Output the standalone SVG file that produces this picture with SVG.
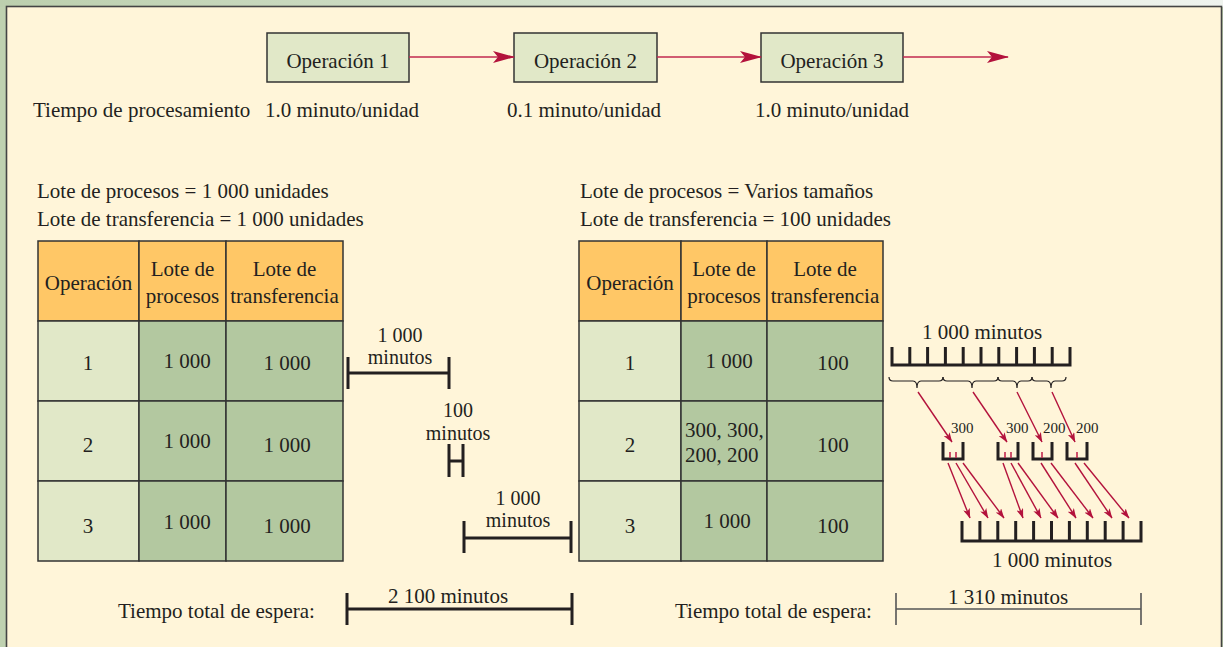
<svg xmlns="http://www.w3.org/2000/svg" width="1223" height="647" viewBox="0 0 1223 647">
<defs>
<linearGradient id="topband" x1="0" y1="0" x2="1" y2="0">
<stop offset="0" stop-color="#bccfae"/>
<stop offset="0.6" stop-color="#dbe6d5"/>
<stop offset="1" stop-color="#eff3ee"/>
</linearGradient>
<marker id="bigArrow" viewBox="0 0 22 12" refX="21" refY="6" markerWidth="22" markerHeight="12" markerUnits="userSpaceOnUse" orient="auto">
<path d="M0,0 L22,6 L0,12 L5,6 z" fill="#b3123c"/>
</marker>
<marker id="smallArrow" viewBox="0 0 10 7" refX="9.5" refY="3.5" markerWidth="10" markerHeight="7" markerUnits="userSpaceOnUse" orient="auto">
<path d="M0,0 L10,3.5 L0,7 L2.5,3.5 z" fill="#b3123c"/>
</marker>
</defs>
<style>
text{font-family:"Liberation Serif","Times New Roman",serif;font-size:21px;fill:#231f20}
.c{text-anchor:middle}
.sm{font-size:15px}
.lb{font-size:20px}
.box{fill:#e1e8c8;stroke:#333;stroke-width:1.5}
.hd{fill:#ffc766;stroke:#333;stroke-width:1.5}
.c1{fill:#e1e8c8;stroke:#333;stroke-width:1.5}
.c2{fill:#b3c8a0;stroke:#333;stroke-width:1.5}
.flow{stroke:#c2284f;stroke-width:1.6;fill:none}
.red{stroke:#b3123c;stroke-width:1.4;fill:none}
.bar{stroke:#231f20;stroke-width:3;fill:none}
.thin{stroke:#555;stroke-width:1.6;fill:none}
.brace{stroke:#231f20;stroke-width:1.2;fill:none}
.tick{stroke:#c2284f;stroke-width:1.6}
</style>

<!-- frame -->
<rect x="0" y="0" width="1223" height="647" fill="#bfd1b0"/>
<rect x="0" y="0" width="1223" height="7" fill="url(#topband)"/>
<rect x="6.5" y="6.5" width="1215" height="645" fill="#fff5d9" stroke="#444" stroke-width="1.6"/>

<!-- top flow nodes -->
<g id="op1"><rect class="box" x="267" y="33" width="142" height="49"/><text class="c" x="338" y="68">Operación 1</text></g>
<g id="op2"><rect class="box" x="514" y="33" width="143" height="49"/><text class="c" x="585.5" y="68">Operación 2</text></g>
<g id="op3"><rect class="box" x="761" y="33" width="142" height="49"/><text class="c" x="832" y="68">Operación 3</text></g>

<g id="connectors">
<line class="flow" x1="409" y1="57" x2="514" y2="57" marker-end="url(#bigArrow)"/>
<line class="flow" x1="657" y1="57" x2="761" y2="57" marker-end="url(#bigArrow)"/>
<line class="flow" x1="903" y1="57" x2="1008" y2="57" marker-end="url(#bigArrow)"/>
<!-- brace to small comb arrows -->
<line class="red" x1="918" y1="392" x2="952" y2="442" marker-end="url(#smallArrow)"/>
<line class="red" x1="973" y1="392" x2="1007" y2="442" marker-end="url(#smallArrow)"/>
<line class="red" x1="1017" y1="392" x2="1042" y2="442" marker-end="url(#smallArrow)"/>
<line class="red" x1="1052" y1="392" x2="1075" y2="442" marker-end="url(#smallArrow)"/>
<!-- small comb to bottom comb arrows -->
<line class="red" x1="948" y1="463" x2="970" y2="518" marker-end="url(#smallArrow)"/>
<line class="red" x1="956" y1="463" x2="988" y2="518" marker-end="url(#smallArrow)"/>
<line class="red" x1="963" y1="463" x2="1004" y2="518" marker-end="url(#smallArrow)"/>
<line class="red" x1="1003" y1="463" x2="1023" y2="518" marker-end="url(#smallArrow)"/>
<line class="red" x1="1011" y1="463" x2="1041" y2="518" marker-end="url(#smallArrow)"/>
<line class="red" x1="1018" y1="463" x2="1058" y2="518" marker-end="url(#smallArrow)"/>
<line class="red" x1="1041" y1="463" x2="1076" y2="518" marker-end="url(#smallArrow)"/>
<line class="red" x1="1051" y1="463" x2="1093" y2="518" marker-end="url(#smallArrow)"/>
<line class="red" x1="1075" y1="463" x2="1112" y2="518" marker-end="url(#smallArrow)"/>
<line class="red" x1="1084" y1="463" x2="1129" y2="518" marker-end="url(#smallArrow)"/>
</g>

<!-- processing times -->
<g id="times">
<text x="33" y="117">Tiempo de procesamiento</text>
<text x="265" y="117">1.0 minuto/unidad</text>
<text x="507" y="117">0.1 minuto/unidad</text>
<text x="755" y="117">1.0 minuto/unidad</text>
</g>

<!-- left section -->
<g id="left-labels">
<text x="37" y="198">Lote de procesos = 1 000 unidades</text>
<text x="37" y="226">Lote de transferencia = 1 000 unidades</text>
</g>
<g id="left-table">
<rect class="hd" x="38" y="241" width="101" height="80"/>
<rect class="hd" x="139" y="241" width="87" height="80"/>
<rect class="hd" x="226" y="241" width="117" height="80"/>
<rect class="c1" x="38" y="321" width="101" height="80"/>
<rect class="c2" x="139" y="321" width="87" height="80"/>
<rect class="c2" x="226" y="321" width="117" height="80"/>
<rect class="c1" x="38" y="401" width="101" height="80"/>
<rect class="c2" x="139" y="401" width="87" height="80"/>
<rect class="c2" x="226" y="401" width="117" height="80"/>
<rect class="c1" x="38" y="481" width="101" height="80"/>
<rect class="c2" x="139" y="481" width="87" height="80"/>
<rect class="c2" x="226" y="481" width="117" height="80"/>
<text class="c" x="88.5" y="290">Operación</text>
<text class="c" x="182.5" y="276">Lote de</text>
<text class="c" x="182.5" y="303">procesos</text>
<text class="c" x="284.5" y="276">Lote de</text>
<text class="c" x="284.5" y="303">transferencia</text>
<text class="c" x="88" y="370">1</text>
<text class="c" x="187" y="368">1 000</text>
<text class="c" x="287" y="370">1 000</text>
<text class="c" x="88" y="452">2</text>
<text class="c" x="187" y="448">1 000</text>
<text class="c" x="287" y="452">1 000</text>
<text class="c" x="88" y="533">3</text>
<text class="c" x="187" y="529">1 000</text>
<text class="c" x="287" y="533">1 000</text>
</g>

<!-- middle timeline bars -->
<g id="bar-op1">
<path class="bar" d="M348,357 V389 M348,373 H449 M449,357 V389"/>
<text class="c lb" x="400" y="342">1 000</text>
<text class="c lb" x="400" y="364">minutos</text>
</g>
<g id="bar-op2">
<path class="bar" d="M449,444 V477 M449,461 H463 M463,444 V477"/>
<text class="c lb" x="458" y="417">100</text>
<text class="c lb" x="458" y="440">minutos</text>
</g>
<g id="bar-op3">
<path class="bar" d="M464,521 V553 M464,538 H571 M571,521 V553"/>
<text class="c lb" x="518" y="505">1 000</text>
<text class="c lb" x="518" y="527">minutos</text>
</g>

<!-- right section -->
<g id="right-labels">
<text x="580" y="198">Lote de procesos = Varios tamaños</text>
<text x="580" y="226">Lote de transferencia = 100 unidades</text>
</g>
<g id="right-table">
<rect class="hd" x="579" y="241" width="102" height="80"/>
<rect class="hd" x="681" y="241" width="86" height="80"/>
<rect class="hd" x="767" y="241" width="116" height="80"/>
<rect class="c1" x="579" y="321" width="102" height="80"/>
<rect class="c2" x="681" y="321" width="86" height="80"/>
<rect class="c2" x="767" y="321" width="116" height="80"/>
<rect class="c1" x="579" y="401" width="102" height="80"/>
<rect class="c2" x="681" y="401" width="86" height="80"/>
<rect class="c2" x="767" y="401" width="116" height="80"/>
<rect class="c1" x="579" y="481" width="102" height="80"/>
<rect class="c2" x="681" y="481" width="86" height="80"/>
<rect class="c2" x="767" y="481" width="116" height="80"/>
<text class="c" x="630" y="290">Operación</text>
<text class="c" x="724" y="276">Lote de</text>
<text class="c" x="724" y="303">procesos</text>
<text class="c" x="825" y="276">Lote de</text>
<text class="c" x="825" y="303">transferencia</text>
<text class="c" x="630" y="370">1</text>
<text class="c" x="729" y="368">1 000</text>
<text class="c" x="833" y="370">100</text>
<text class="c" x="630" y="452">2</text>
<text x="685" y="437">300, 300,</text>
<text x="685" y="462">200, 200</text>
<text class="c" x="833" y="452">100</text>
<text class="c" x="630" y="533">3</text>
<text class="c" x="727" y="528">1 000</text>
<text class="c" x="833" y="533">100</text>
</g>

<!-- right timing diagram -->
<g id="comb-top">
<text class="c" x="982" y="339">1 000 minutos</text>
<path class="bar" d="M892,347 V365 H1070 V347 M909.8,347 V365 M927.6,347 V365 M945.4,347 V365 M963.2,347 V365 M981,347 V365 M998.8,347 V365 M1016.6,347 V365 M1034.4,347 V365 M1052.2,347 V365"/>
</g>
<g id="braces">
<path class="brace" d="M889,377 Q889,381 893,381 L913,381 Q917,381 917,388 Q917,381 921,381 L939,381 Q943,381 943,377"/>
<path class="brace" d="M943,377 Q943,381 947,381 L968,381 Q972,381 972,388 Q972,381 976,381 L994,381 Q998,381 998,377"/>
<path class="brace" d="M998,377 Q998,381 1002,381 L1013,381 Q1017,381 1017,388 Q1017,381 1021,381 L1028,381 Q1032,381 1032,377"/>
<path class="brace" d="M1032,377 Q1032,381 1036,381 L1047,381 Q1051,381 1051,388 Q1051,381 1055,381 L1062,381 Q1066,381 1066,377"/>
</g>
<g id="batch-300a">
<text class="sm" x="951" y="433">300</text>
<path class="bar" d="M943,442 V459 H963 V442"/>
<path class="tick" d="M950,452 V458 M956,452 V458"/>
</g>
<g id="batch-300b">
<text class="sm" x="1006" y="433">300</text>
<path class="bar" d="M998,442 V459 H1018 V442"/>
<path class="tick" d="M1005,452 V458 M1011,452 V458"/>
</g>
<g id="batch-200a">
<text class="sm" x="1043" y="433">200</text>
<path class="bar" d="M1033,442 V459 H1052 V442"/>
<path class="tick" d="M1042,452 V458"/>
</g>
<g id="batch-200b">
<text class="sm" x="1076" y="433">200</text>
<path class="bar" d="M1067,442 V459 H1087 V442"/>
<path class="tick" d="M1077,452 V458"/>
</g>
<g id="comb-bottom">
<path class="bar" d="M962,521 V541 H1141 V521 M979.9,521 V541 M997.8,521 V541 M1015.7,521 V541 M1033.6,521 V541 M1051.5,521 V541 M1069.4,521 V541 M1087.3,521 V541 M1105.2,521 V541 M1123.1,521 V541"/>
<text class="c" x="1052" y="567">1 000 minutos</text>
</g>

<!-- totals -->
<g id="total-left">
<text x="118" y="618">Tiempo total de espera:</text>
<path class="bar" d="M347,593 V625 M347,609 H572 M572,593 V625"/>
<text class="c" x="448" y="603">2 100 minutos</text>
</g>
<g id="total-right">
<text x="675" y="618">Tiempo total de espera:</text>
<path class="thin" d="M896,593 V625 M896,609 H1141 M1141,593 V625"/>
<text class="c" x="1008" y="604">1 310 minutos</text>
</g>
</svg>
